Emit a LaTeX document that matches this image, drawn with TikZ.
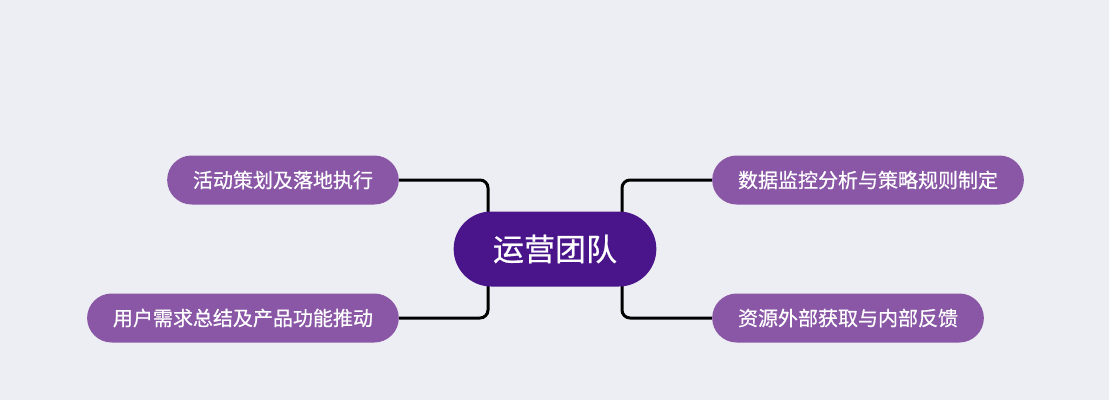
\documentclass[tikz,border=0pt]{standalone}
\usepackage{fontspec}
\newfontfamily\cjk[FakeBold=0.6]{Noto Sans CJK SC}
\usetikzlibrary{shapes.misc, backgrounds}
\definecolor{bgcol}{HTML}{EDEEF3}
\definecolor{leafcol}{HTML}{8A56A6}
\definecolor{hubcol}{HTML}{4A158B}
\tikzset{
  leaf/.style={rounded rectangle, fill=leafcol, text=white, font=\cjk\fontsize{20}{20}\selectfont,
    minimum height=49pt, inner xsep=24pt, inner ysep=0pt},
  link/.style={draw=black, line width=3pt, rounded corners=8pt}
}
\begin{document}
\begin{tikzpicture}[x=1pt, y=1pt]
  \useasboundingbox (0, 0) rectangle (1109, 400);

  \node[rounded rectangle,
    fill = hubcol,
    text = white,
    font = \cjk\fontsize{31}{31}\selectfont,
    inner xsep = 36.5pt,
    minimum height = 75pt] (hub) at (555, 151) {运营团队};

  \node[leaf, anchor=east] (lnode1) at (399, 220) {活动策划及落地执行};
  \node[leaf, anchor=east] (lnode2) at (399, 82) {用户需求总结及产品功能推动};
  \node[leaf, anchor=west] (rnode1) at (712, 220) {数据监控分析与策略规则制定};
  \node[leaf, anchor=west] (rnode2) at (712, 82) {资源外部获取与内部反馈};

  % background and connectors under the nodes
  \begin{scope}[on background layer]
    \fill[bgcol] (0, 0) rectangle (1109, 400);
    \draw[link] (lnode1.east) -| ([xshift=-67pt]hub.center);
    \draw[link] (lnode2.east) -| ([xshift=-67pt]hub.center);
    \draw[link] (rnode1.west) -| ([xshift=67pt]hub.center);
    \draw[link] (rnode2.west) -| ([xshift=67pt]hub.center);
  \end{scope}
\end{tikzpicture}
\end{document}
